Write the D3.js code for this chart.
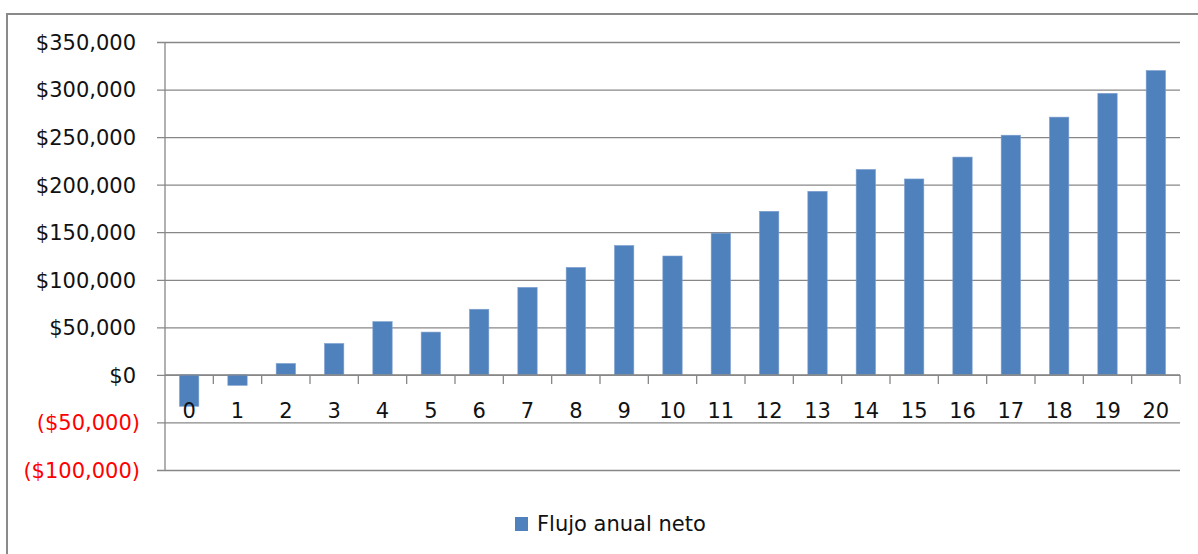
<!DOCTYPE html>
<html>
<head>
<meta charset="utf-8">
<script src="https://cdn.jsdelivr.net/npm/d3@7"></script>
<style>
  html, body { margin: 0; padding: 0; background: #fff; }
  svg { display: block; font-family: "DejaVu Sans", Verdana, sans-serif; }
</style>
</head>
<body>
<svg id="chart" width="1198" height="554"></svg>
<script>
const years = ["0","1","2","3","4","5","6","7","8","9","10","11","12","13","14","15","16","17","18","19","20"];
const flujoAnualNeto = [-33000,-11000,12000,33000,56000,45000,69000,92000,113000,136000,125000,149000,172000,193000,216000,206000,229000,252000,271000,296000,320000];
const yTicks = [-100000,-50000,0,50000,100000,150000,200000,250000,300000,350000];
const seriesName = "Flujo anual neto";

(function () {
const svg = d3.select("#chart");
const W = 1198, H = 554;
const pLeft = 165, pRight = 1180, pTop = 42, pBottom = 470;
const axisColor = "#878787";
const barColor = "#4F81BD";

// outer frame
svg.append("rect").attr("x", 7).attr("y", 14).attr("width", W + 20).attr("height", H + 20)
  .attr("fill", "#fff").attr("stroke", "#8a8a8a").attr("stroke-width", 2);

const y = d3.scaleLinear().domain([-100000, 350000]).range([pBottom, pTop]);
const x = d3.scaleBand().domain(years).range([pLeft, pRight]).paddingInner(0.6).paddingOuter(0.3);

const fmt = v => {
  const s = "$" + d3.format(",")(Math.abs(v));
  return v < 0 ? "(" + s + ")" : s;
};

// y axis with gridlines
const yAxis = d3.axisLeft(y).tickValues(yTicks).tickFormat(fmt).tickSize(-(pRight - pLeft)).tickPadding(0);
const gy = svg.append("g").attr("transform", `translate(${pLeft},0)`).call(yAxis);
gy.select(".domain").remove();
gy.selectAll(".tick line").attr("x1", -8).attr("stroke", axisColor).attr("stroke-width", 1.3);
gy.selectAll(".tick text")
  .attr("x", d => d < 0 ? -25 : -29)
  .attr("dy", "0.35em")
  .attr("font-size", 21)
  .attr("font-family", "'DejaVu Sans', Verdana, sans-serif")
  .attr("fill", d => d < 0 ? "#FF0000" : "#111");

// y axis line
svg.append("line").attr("x1", pLeft).attr("x2", pLeft).attr("y1", pTop).attr("y2", pBottom)
  .attr("stroke", axisColor).attr("stroke-width", 1.3);

// bars
svg.append("g").selectAll("rect").data(flujoAnualNeto).join("rect")
  .attr("x", (d, i) => x(years[i]))
  .attr("width", x.bandwidth())
  .attr("y", d => y(Math.max(0, d)))
  .attr("height", d => Math.abs(y(d) - y(0)))
  .attr("fill", barColor)
  .attr("stroke", "#7d9fcf").attr("stroke-width", 0.6);

// category axis at zero
const step = x.step();
const gx = svg.append("g").attr("transform", `translate(0,${y(0)})`);
gx.append("line").attr("x1", pLeft).attr("x2", pRight).attr("y1", 0).attr("y2", 0)
  .attr("stroke", axisColor).attr("stroke-width", 1.3);
gx.selectAll("line.tk").data(years).join("line").attr("class", "tk")
  .attr("x1", d => x(d) - x.paddingOuter() * step + step)
  .attr("x2", d => x(d) - x.paddingOuter() * step + step)
  .attr("y1", 0).attr("y2", 9)
  .attr("stroke", axisColor).attr("stroke-width", 1.3);
gx.selectAll("text").data(years).join("text")
  .attr("x", d => x(d) + x.bandwidth() / 2)
  .attr("y", 36)
  .attr("dy", "0.35em")
  .attr("text-anchor", "middle")
  .attr("font-size", 21)
  .attr("fill", "#111")
  .text(d => d);

// legend
const lg = svg.append("g").attr("transform", "translate(515,517)");
lg.append("rect").attr("width", 13).attr("height", 14).attr("fill", barColor);
lg.append("text").attr("x", 22).attr("y", 7).attr("dy", "0.35em")
  .attr("font-size", 21).attr("fill", "#111").text(seriesName);
})();
</script>
</body>
</html>
